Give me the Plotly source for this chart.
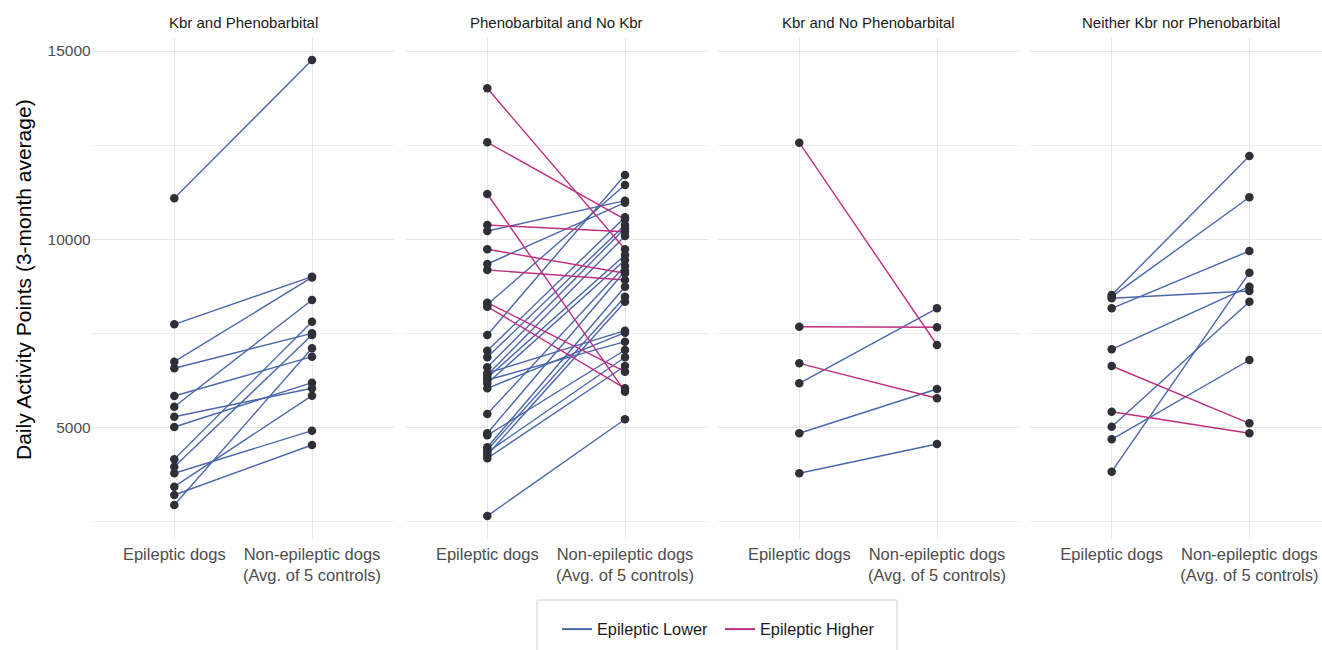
import plotly.graph_objects as go

# Facet titles and category labels
panels = [
    "Kbr and Phenobarbital",
    "Phenobarbital and No Kbr",
    "Kbr and No Phenobarbital",
    "Neither Kbr nor Phenobarbital",
]
categories = ["Epileptic dogs", "Non-epileptic dogs<br>(Avg. of 5 controls)"]
y_ticks = [5000, 10000, 15000]
y_ticktext = ["5000", "10000", "15000"]

# Paired daily activity values: epileptic dog vs. matched control average
kp_epileptic = [11091, 7746, 6754, 6579, 5844, 5560, 5294, 5021, 4164, 3967, 3792, 3437, 3216, 2951]
kp_control   = [14761, 9010, 8990, 7507, 6887, 8392, 6050, 6197, 7816, 7463, 4923, 5852, 4543, 7109]

pb_epileptic = [14010, 12577, 11205, 10382, 9737, 9188, 8320, 8214,
                10223, 9347, 8270, 7463, 7046, 6871, 6605, 6450, 6401, 6330, 6268, 6181,
                6048, 5366, 4854, 4800, 4482, 4411, 4350, 4279, 4190, 2660]
pb_control   = [9737, 10533, 5958, 10204, 9100, 8922, 6489, 6048,
                11027, 10974, 11444, 11709, 10586, 10382, 10294, 7577, 10090, 9586, 7285, 9453,
                7524, 9294, 9161, 7065, 8745, 8479, 6871, 8346, 6640, 5225]

kb_epileptic = [12566, 7683, 6711, 6181, 4854, 3792]
kb_control   = [7197, 7667, 5783, 8171, 6029, 4570]

nn_epileptic = [8524, 8480, 8437, 8171, 7083, 6640, 5427, 5029, 4694, 3835]
nn_control   = [12213, 11117, 8630, 9692, 8745, 5119, 4854, 8346, 6799, 9116]

series = [
    (kp_epileptic, kp_control),
    (pb_epileptic, pb_control),
    (kb_epileptic, kb_control),
    (nn_epileptic, nn_control),
]

LOWER = "#4a66ac"
HIGHER = "#bf2f80"
POINT = "#2f2f38"
GRID = "#e6e6e6"
FONT = "Liberation Sans, Arial, sans-serif"

W, H = 1322, 650
cat_px = [(174.3, 312.0), (487.3, 625.0), (799.3, 937.0), (1111.7, 1249.4)]
plot_top, plot_bottom = 38, 539
y_range = [2048, 15345]
unit = 137.7
pad = 0.6  # discrete-axis padding around the two categories, in category units

fig = go.Figure()

for i, (epi, ctl) in enumerate(series):
    xa = "x" if i == 0 else f"x{i + 1}"
    ya = "y" if i == 0 else f"y{i + 1}"
    for colour, higher in [(LOWER, False), (HIGHER, True)]:
        xs, ys = [], []
        for a, b in zip(epi, ctl):
            if (a > b) == higher:
                xs += [0, 1, None]
                ys += [a, b, None]
        fig.add_trace(go.Scatter(x=xs, y=ys, mode="lines", xaxis=xa, yaxis=ya,
                                 line=dict(color=colour, width=1.4),
                                 showlegend=False, hoverinfo="skip"))
    fig.add_trace(go.Scatter(x=[0] * len(epi) + [1] * len(ctl), y=list(epi) + list(ctl),
                             mode="markers", xaxis=xa, yaxis=ya,
                             marker=dict(color=POINT, size=8.5),
                             showlegend=False))

# Legend entries
for label, colour in [("Epileptic Lower", LOWER), ("Epileptic Higher", HIGHER)]:
    fig.add_trace(go.Scatter(x=[None], y=[None], mode="lines", name=label,
                             line=dict(color=colour, width=2)))

layout = dict(
    width=W, height=H,
    margin=dict(l=0, r=0, t=0, b=0, autoexpand=False),
    paper_bgcolor="white", plot_bgcolor="white",
    font=dict(family=FONT, size=15, color="#4d4d4d"),
    showlegend=True,
    legend=dict(orientation="h", x=557 / W, xanchor="left", y=1 - 612 / H, yanchor="top",
                font=dict(size=16.3, color="#1a1a1a"), bgcolor="rgba(0,0,0,0)",
                entrywidth=118, entrywidthmode="pixels", itemwidth=30),
)

for i, (c0, c1) in enumerate(cat_px):
    left = c0 - pad * unit
    right = min(c1 + pad * unit, W)
    rng = [(left - c0) / unit, (right - c0) / unit]
    xkey = "xaxis" if i == 0 else f"xaxis{i + 1}"
    ykey = "yaxis" if i == 0 else f"yaxis{i + 1}"
    layout[xkey] = dict(domain=[left / W, right / W], range=rng,
                        tickvals=[0, 1], ticktext=categories,
                        showgrid=True, gridcolor=GRID, gridwidth=1.2,
                        zeroline=False, showline=False, ticks="",
                        ticklabelstandoff=3,
                        tickfont=dict(size=16.5, color="#4d4d4d"),
                        anchor="y" if i == 0 else f"y{i + 1}")
    layout[ykey] = dict(domain=[1 - plot_bottom / H, 1 - plot_top / H], range=y_range,
                        tickvals=y_ticks, ticktext=y_ticktext,
                        showticklabels=(i == 0),
                        showgrid=True, gridcolor=GRID, gridwidth=1.2,
                        minor=dict(tickvals=[2500, 7500, 12500], showgrid=True,
                                   gridcolor="#ededed", gridwidth=0.8),
                        zeroline=False, showline=False, ticks="",
                        tickfont=dict(size=15.5, color="#4d4d4d"),
                        anchor="x" if i == 0 else f"x{i + 1}")
    fig.add_annotation(text=panels[i], x=((c0 + c1) / 2) / W, y=1 - 22 / H,
                       xref="paper", yref="paper", xanchor="center", yanchor="middle",
                       showarrow=False, font=dict(size=15, color="#1a1a1a"))

# Y axis title
fig.add_annotation(text="Daily Activity Points (3-month average)", textangle=-90,
                   x=23 / W, y=1 - 280 / H, xref="paper", yref="paper",
                   xanchor="center", yanchor="middle", showarrow=False,
                   font=dict(size=21, color="#000000"))

fig.update_layout(**layout)

# Legend frame
fig.add_shape(type="rect", xref="paper", yref="paper",
              x0=537 / W, x1=897 / W, y0=1 - 662 / H, y1=1 - 600 / H,
              line=dict(color="#cfcfcf", width=1), fillcolor="rgba(0,0,0,0)")

fig.write_html("out.html")
